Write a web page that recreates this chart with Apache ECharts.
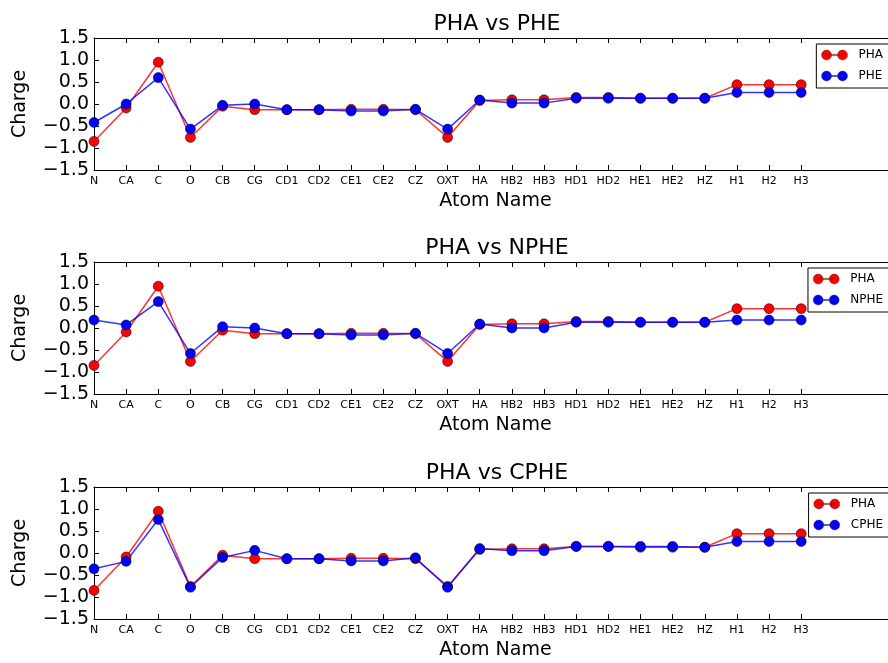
<!DOCTYPE html>
<html>
<head>
<meta charset="utf-8">
<script src="https://cdn.jsdelivr.net/npm/echarts@6/dist/echarts.min.js"></script>
<style>
  html, body { margin: 0; padding: 0; background: #fff; }
  #chart { width: 888px; height: 663px; }
</style>
</head>
<body>
<div id="chart"></div>
<script>
// Atom names along the x axis
const atoms = ['N','CA','C','O','CB','CG','CD1','CD2','CE1','CE2','CZ','OXT',
               'HA','HB2','HB3','HD1','HD2','HE1','HE2','HZ','H1','H2','H3'];

// Partial charges per atom
const pha  = [-0.85,-0.09,0.95,-0.76,-0.05,-0.13,-0.13,-0.13,-0.12,-0.12,-0.13,-0.76,
              0.08,0.095,0.095,0.15,0.15,0.13,0.13,0.13,0.44,0.44,0.44];
const phe  = [-0.42,0.00,0.60,-0.57,-0.03,0.00,-0.13,-0.13,-0.16,-0.16,-0.12,-0.57,
              0.09,0.02,0.02,0.13,0.13,0.13,0.13,0.13,0.26,0.26,0.26];
const nphe = [0.18,0.07,0.60,-0.58,0.03,0.00,-0.13,-0.13,-0.16,-0.16,-0.12,-0.58,
              0.09,0.00,0.00,0.13,0.13,0.13,0.13,0.13,0.18,0.18,0.18];
const cphe = [-0.36,-0.19,0.76,-0.78,-0.10,0.06,-0.13,-0.13,-0.18,-0.18,-0.11,-0.78,
              0.10,0.05,0.05,0.15,0.15,0.15,0.15,0.13,0.26,0.26,0.26];

// Panels: reference residue vs compared residue
const panels = [
  { title: 'PHA vs PHE',  ref: 'PHA', refData: pha, cmp: 'PHE',  cmpData: phe  },
  { title: 'PHA vs NPHE', ref: 'PHA', refData: pha, cmp: 'NPHE', cmpData: nphe },
  { title: 'PHA vs CPHE', ref: 'PHA', refData: pha, cmp: 'CPHE', cmpData: cphe }
];

const yMin = -1.5, yMax = 1.5, yStep = 0.5;
const xMax = 24.7;   // visible part of the x range (page edge cuts the plot)

const FONT = 'DejaVu Sans';
const gridTops = [38, 262, 487];
const gridH = 132;
const gridLeft = 94;

const tickIdx = atoms.map((_, i) => i);
const pairs = arr => arr.map((v, i) => [i, v]);
const fmtY = v => (v < 0 ? '\u2212' : '') + Math.abs(v).toFixed(1);

// legend handle: two markers joined by a line
const handle = 'path://M5,4.4H21V5.6H5Z M0,5A5,5 0 1,1 10,5A5,5 0 1,1 0,5Z M16,5A5,5 0 1,1 26,5A5,5 0 1,1 16,5Z';

const grid = [], xAxis = [], yAxis = [], series = [], title = [], legend = [];

panels.forEach((p, k) => {
  const top = gridTops[k];
  grid.push({ left: gridLeft, right: 0, top: top, height: gridH });

  // bottom axis with labels
  xAxis.push({
    type: 'value', gridIndex: k, min: 0, max: xMax, interval: 1,
    position: 'bottom',
    name: 'Atom Name', nameLocation: 'middle', nameGap: 22,
    nameTextStyle: { fontFamily: FONT, fontSize: 19, color: '#000',
                     padding: [0, 0, 0, 9] },
    axisLine: { show: true, onZero: false, lineStyle: { color: '#000', width: 1 } },
    axisTick: { show: true, inside: true, length: 5, customValues: tickIdx,
                lineStyle: { color: '#000' } },
    axisLabel: { show: true, customValues: tickIdx, margin: 6,
                 formatter: v => atoms[v] !== undefined ? atoms[v] : '',
                 fontFamily: FONT, fontSize: 11, color: '#000' },
    splitLine: { show: false }
  });
  // top spine with ticks
  xAxis.push({
    type: 'value', gridIndex: k, min: 0, max: xMax, interval: 1,
    position: 'top',
    axisLine: { show: true, onZero: false, lineStyle: { color: '#000', width: 1 } },
    axisTick: { show: true, inside: true, length: 5, customValues: tickIdx,
                lineStyle: { color: '#000' } },
    axisLabel: { show: false },
    splitLine: { show: false }
  });

  yAxis.push({
    type: 'value', gridIndex: k, min: yMin, max: yMax, interval: yStep,
    name: 'Charge', nameLocation: 'middle', nameGap: 64, nameRotate: 90,
    nameTextStyle: { fontFamily: FONT, fontSize: 19, color: '#000' },
    axisLine: { show: true, onZero: false, lineStyle: { color: '#000', width: 1 } },
    axisTick: { show: true, inside: true, length: 5, lineStyle: { color: '#000' } },
    axisLabel: { formatter: fmtY, margin: 5, fontFamily: FONT, fontSize: 19, color: '#000' },
    splitLine: { show: false }
  });

  const mk = (name, data, color) => ({
    type: 'line', name: name,
    xAxisIndex: 2 * k, yAxisIndex: k,
    data: pairs(data),
    symbol: 'circle', symbolSize: 10,
    lineStyle: { color: color, width: 1.5, opacity: 0.8 },
    itemStyle: { color: color, borderColor: '#000', borderWidth: 0.5 },
    emphasis: { disabled: true },
    animation: false
  });
  series.push(mk(p.ref, p.refData, '#ff0000'));
  series.push(mk(p.cmp, p.cmpData, '#0000ff'));

  title.push({
    text: p.title, left: 492, top: top - 30, textAlign: 'center',
    textStyle: { fontFamily: FONT, fontSize: 22, fontWeight: 'normal', color: '#000' }
  });

  legend.push({
    orient: 'vertical', right: -3, top: top + 6,
    data: [p.ref, p.cmp],
    icon: handle, itemWidth: 26, itemHeight: 10, itemGap: 9,
    padding: [5, 8, 6, 5],
    borderColor: '#000', borderWidth: 1, backgroundColor: '#fff',
    itemStyle: { borderWidth: 0.4, borderColor: '#333' },
    lineStyle: { width: 0 },
    textStyle: { fontFamily: FONT, fontSize: 12, color: '#000', padding: [0, 0, 0, 6] },
    selectedMode: false
  });
});

const chart = echarts.init(document.getElementById('chart'), null, { renderer: 'canvas' });
chart.setOption({
  animation: false,
  backgroundColor: '#fff',
  title, legend, grid, xAxis, yAxis, series
});
</script>
</body>
</html>
